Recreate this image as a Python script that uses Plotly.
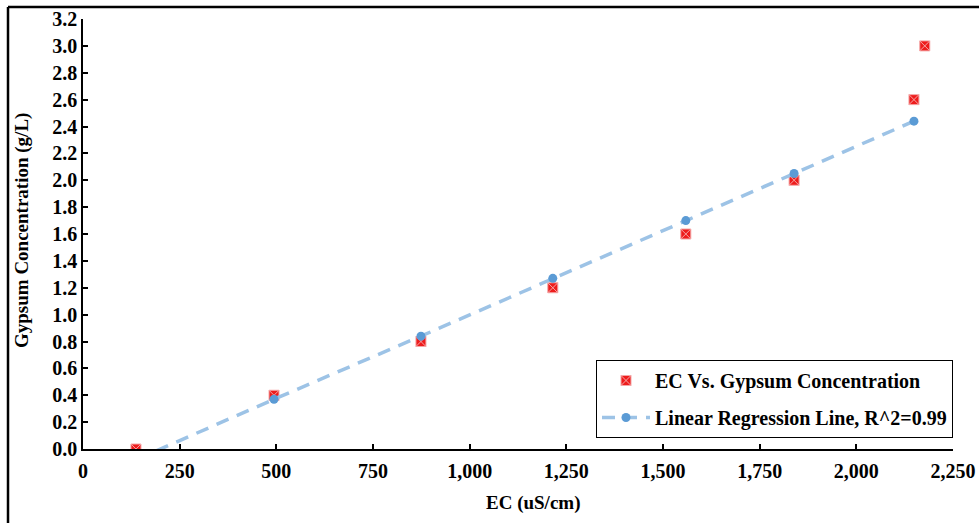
import plotly.graph_objects as go

# Measured electrical conductivity (uS/cm) and gypsum concentration (g/L)
ec_values = [137, 494, 874, 1215, 1559, 1839, 2149, 2177]
gypsum_conc = [0.0, 0.4, 0.8, 1.2, 1.6, 2.0, 2.6, 3.0]

# Linear regression line evaluated at the measured EC values
reg_ec = [137, 494, 874, 1215, 1559, 1839, 2149]
reg_conc = [-0.08, 0.37, 0.84, 1.27, 1.70, 2.05, 2.44]

x_ticks = [0, 250, 500, 750, 1000, 1250, 1500, 1750, 2000, 2250]
y_ticks = [0.0, 0.2, 0.4, 0.6, 0.8, 1.0, 1.2, 1.4, 1.6, 1.8, 2.0, 2.2, 2.4, 2.6, 2.8, 3.0, 3.2]

serif = "Liberation Serif, Times New Roman, serif"

fig = go.Figure()

fig.add_trace(go.Scatter(
    x=ec_values, y=gypsum_conc, mode="markers",
    name="EC Vs. Gypsum Concentration", legendgroup="data",
    marker=dict(symbol="square-x", size=10, color="#EE1C1C",
                line=dict(color="#F4A6A6", width=1)),
))

fig.add_trace(go.Scatter(
    x=reg_ec, y=reg_conc, mode="lines+markers",
    name="Linear Regression Line, R^2=0.99", legendgroup="fit",
    line=dict(color="#9DC3E6", width=3.5, dash="13px,9px"),
    marker=dict(symbol="circle", size=9, color="#5B9BD5"),
))

tick_font = dict(family=serif, size=20, color="black", weight="bold")
title_font = dict(family=serif, size=19, color="black", weight="bold")

fig.update_layout(
    width=979, height=523,
    margin=dict(l=83, r=26, t=19, b=74),
    paper_bgcolor="white", plot_bgcolor="white",
    font=dict(family=serif, color="black"),
    showlegend=True,
    legend=dict(
        x=1.0, xanchor="right", y=0.207, yanchor="top",
        bgcolor="white", bordercolor="black", borderwidth=1,
        font=dict(family=serif, size=20, color="black", weight="bold"),
        itemwidth=48, tracegroupgap=8,
    ),
    xaxis=dict(
        range=[0, 2250], tickvals=x_ticks, tickformat=",d",
        showgrid=False, zeroline=False, automargin=False,
        showline=True, linecolor="black", linewidth=1.5,
        ticks="inside", ticklen=5, tickcolor="black", tickwidth=1.5,
        tickfont=tick_font, ticklabelstandoff=3,
    ),
    yaxis=dict(
        range=[0, 3.2], tickvals=y_ticks, tickformat=".1f",
        showgrid=False, zeroline=False, automargin=False,
        showline=True, linecolor="black", linewidth=1.5,
        ticks="inside", ticklen=5, tickcolor="black", tickwidth=1.5,
        tickfont=tick_font,
    ),
    annotations=[
        dict(text="EC (uS/cm)", xref="paper", yref="paper",
             x=0.517, y=-0.125, xanchor="center", yanchor="middle",
             showarrow=False, font=title_font),
        dict(text="Gypsum Concentration (g/L)", xref="paper", yref="paper",
             x=-0.0701, y=0.507, xanchor="center", yanchor="middle",
             textangle=-90, showarrow=False, font=title_font),
    ],
    shapes=[
        # frame around the figure (left and top edges)
        dict(type="line", xref="paper", yref="paper",
             x0=-0.0862, x1=-0.0862, y0=-0.2, y1=1.028,
             line=dict(color="black", width=2.5)),
        dict(type="line", xref="paper", yref="paper",
             x0=-0.0862, x1=1.04, y0=1.028, y1=1.028,
             line=dict(color="black", width=2.5)),
    ],
)

fig.write_html("out.html")
